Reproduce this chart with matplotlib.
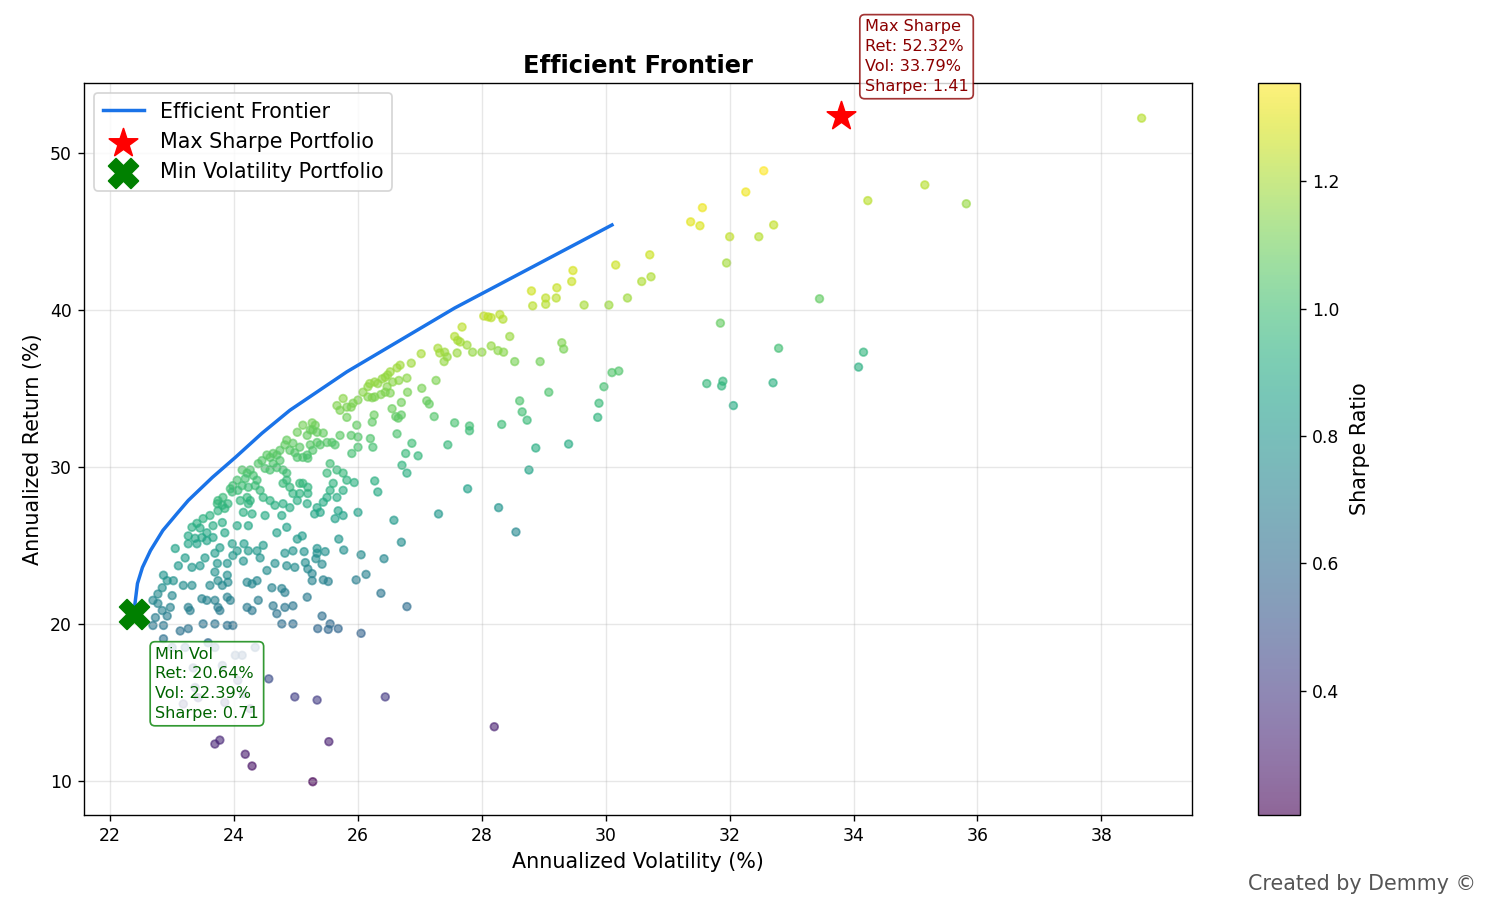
import numpy as np
import matplotlib
matplotlib.use("Agg")
import matplotlib.pyplot as plt

# ---------------- data ----------------
RISK_FREE = 4.77  # % implied by the annotated Sharpe ratios

frontier_vol = [22.39, 22.40, 22.44, 22.52, 22.65, 22.85, 23.08, 23.26, 23.65, 24.02,
                24.45, 24.90, 25.82, 27.56, 30.10]
frontier_ret = [20.64, 21.30, 22.57, 23.59, 24.67, 25.95, 27.03, 27.86, 29.33, 30.60,
                32.14, 33.60, 36.05, 40.11, 45.40]

max_sharpe_vol, max_sharpe_ret, max_sharpe_sr = 33.79, 52.32, 1.41
min_vol_vol, min_vol_ret, min_vol_sr = 22.39, 20.64, 0.71

# random portfolios: [volatility %, return %]
cloud_upper_band = [
    [25.76, 34.35], [25.66, 33.9], [25.82, 33.8], [25.71, 33.6], [25.82, 33.15],
    [25.11, 32.65], [25.26, 32.8], [25.31, 32.65], [25.23, 32.35], [25.27, 32.35],
    [25.34, 32.2], [25.44, 32.15], [25.02, 32.2], [25.18, 32.0], [25.58, 31.55],
    [25.71, 32.0], [25.63, 31.4], [25.5, 31.55], [25.34, 31.55], [25.39, 31.4],
    [25.23, 31.4], [25.27, 31.05], [25.18, 30.75], [25.06, 31.25], [24.95, 31.5],
    [24.85, 31.7], [24.82, 31.4], [24.9, 31.05], [24.98, 30.9], [25.02, 30.6],
    [25.11, 30.6], [25.19, 30.55], [24.74, 31.05], [24.69, 30.75], [24.63, 30.85],
    [24.58, 30.6], [24.53, 30.75], [24.45, 30.4], [24.39, 30.2], [24.74, 30.4],
    [24.63, 30.2], [24.69, 29.95], [24.79, 29.8], [24.58, 29.8], [24.5, 29.9],
    [24.26, 29.8], [24.31, 29.45], [24.21, 29.6], [24.18, 29.25], [24.13, 29.8],
    [24.37, 29.15], [24.42, 28.5], [24.34, 28.8], [24.23, 28.7], [24.13, 28.8],
    [24.05, 29.15], [23.98, 28.8], [23.94, 28.6], [24.06, 28.5], [23.97, 28.4],
    [23.82, 28.05], [23.74, 27.85], [24.1, 27.85], [24.21, 28.05], [24.26, 27.85],
    [24.47, 28.05], [24.58, 27.85], [24.85, 29.6], [24.85, 29.15], [24.79, 28.95],
    [24.9, 28.7], [24.95, 28.3], [25.02, 27.85], [25.06, 28.95], [25.11, 28.95],
    [25.19, 28.3], [25.19, 28.7], [25.06, 28.3], [25.5, 28.05], [25.55, 28.5],
    [25.6, 28.95], [25.5, 29.6], [25.55, 30.2], [25.76, 29.6], [25.82, 29.15],
    [25.66, 29.8], [25.66, 28.05], [25.76, 28.5], [25.18, 27.65], [25.34, 27.4],
    [25.44, 27.75], [24.9, 27.4], [24.79, 27.65],
]

cloud_core_low = [
    [23.73, 27.65], [23.81, 27.55], [23.9, 27.65], [23.85, 27.35], [23.74, 27.2],
    [24.15, 27.1], [24.29, 27.0], [24.5, 26.9], [24.77, 26.9], [24.66, 27.55],
    [24.23, 27.65], [23.61, 26.9], [23.5, 26.7], [23.4, 26.4], [23.32, 26.15],
    [23.45, 26.1], [23.56, 25.8], [23.66, 26.25], [23.48, 25.5], [23.37, 25.45],
    [23.26, 25.6], [23.4, 25.1], [23.56, 25.3], [23.26, 25.1], [23.66, 25.5],
    [23.81, 26.45], [23.85, 25.8], [23.77, 24.85], [23.97, 25.1], [24.05, 24.65],
    [24.16, 25.1], [24.23, 24.65], [24.15, 24.0], [23.98, 24.35], [23.89, 23.85],
    [23.73, 23.85], [23.69, 23.3], [23.89, 23.1], [24.05, 26.25], [24.23, 26.25],
    [24.69, 25.8], [24.85, 26.15], [24.37, 24.65], [24.47, 25.0], [24.42, 24.2],
    [24.53, 23.4], [24.66, 23.85], [24.82, 24.5], [24.95, 24.65], [24.98, 23.6],
    [24.85, 23.7], [25.02, 25.4], [23.05, 24.8], [23.21, 24.2], [23.1, 23.7],
    [23.32, 23.6], [23.45, 23.7], [23.53, 24.2], [23.69, 24.5], [22.86, 23.1],
    [22.92, 22.75], [23.02, 22.75], [22.84, 22.3], [22.77, 21.9], [23.0, 21.8],
    [23.18, 22.45], [23.32, 22.45], [23.61, 22.45], [23.74, 22.75], [23.81, 22.45],
    [23.9, 22.65], [24.21, 22.65], [24.29, 22.55], [24.37, 22.75], [24.61, 22.3],
    [24.77, 22.25], [24.82, 22.0], [22.69, 21.5], [22.77, 21.3], [22.84, 20.85],
    [22.92, 20.5], [22.73, 20.4], [22.97, 21.05], [23.26, 21.05], [23.29, 20.85],
    [23.48, 21.6], [23.56, 21.5], [23.69, 21.5], [23.74, 21.05], [23.77, 20.85],
    [23.89, 21.7], [23.94, 21.5], [24.21, 21.05], [24.29, 20.85], [24.39, 21.5],
    [24.63, 21.15], [24.69, 20.65], [24.82, 21.05], [24.95, 21.15], [24.77, 20.0],
    [24.95, 20.0], [22.69, 19.9], [22.86, 19.9], [23.13, 19.55], [23.26, 19.7],
    [23.5, 20.0], [23.69, 20.0], [23.89, 19.9], [23.98, 19.9],
]

cloud_low_tail = [
    [22.86, 19.05], [23.0, 18.5], [23.21, 18.5], [23.58, 18.8], [23.69, 18.5],
    [23.81, 17.35], [24.02, 18.0], [24.13, 18.0], [24.34, 18.5], [23.34, 17.2],
    [23.37, 15.95], [23.18, 14.9], [23.42, 15.3], [23.85, 15.0], [24.06, 16.4],
    [24.15, 15.55], [24.26, 14.6], [24.56, 16.5], [23.69, 12.35], [23.77, 12.6],
    [24.18, 11.7], [24.29, 10.95], [24.98, 15.35], [25.34, 15.15], [26.44, 15.35],
    [25.53, 12.5], [25.27, 9.95], [28.2, 13.45],
]

cloud_middle = [
    [27.29, 37.55], [27.32, 37.25], [27.4, 37.3], [27.44, 37.0], [27.39, 36.7],
    [27.26, 35.5], [27.02, 37.2], [26.86, 36.6], [26.68, 36.47], [26.63, 36.3],
    [26.52, 36.05], [26.48, 35.85], [26.79, 35.65], [26.66, 35.5], [26.56, 35.4],
    [26.44, 35.7], [26.39, 35.6], [26.32, 35.3], [26.27, 35.4], [26.19, 35.3],
    [26.16, 35.1], [26.47, 35.1], [26.44, 34.75], [26.52, 34.7], [26.37, 34.6],
    [26.27, 34.45], [26.23, 34.4], [26.16, 34.45], [26.08, 34.75], [26.0, 34.25],
    [25.92, 34.05], [25.89, 33.8], [25.98, 32.65], [26.0, 31.9], [26.0, 31.25],
    [25.89, 32.0], [25.9, 30.85], [26.2, 31.8], [26.24, 31.25], [26.26, 33.3],
    [26.23, 32.85], [26.63, 32.1], [26.7, 33.3], [26.65, 33.1], [26.61, 33.2],
    [26.55, 33.7], [26.7, 34.1], [26.8, 34.75], [27.03, 35.0], [27.11, 34.2],
    [27.15, 34.0], [27.23, 33.2], [26.87, 31.5], [26.77, 30.85], [26.97, 30.7],
    [27.45, 31.4], [26.71, 30.1], [26.79, 29.6], [26.27, 29.1], [26.32, 28.4],
    [25.94, 29.0], [27.56, 38.3],
    [25.3, 27.0], [25.39, 27.1], [25.63, 26.7], [25.76, 26.9], [25.68, 27.2],
    [26.0, 27.1], [26.58, 26.6], [27.3, 27.0], [25.1, 25.6], [25.69, 25.4],
    [25.77, 24.7], [26.7, 25.2], [26.42, 24.15], [26.05, 24.4], [25.13, 24.6],
    [25.34, 24.8], [25.34, 24.5], [25.47, 24.6], [25.32, 24.15], [25.42, 23.8],
    [25.15, 23.9], [25.19, 23.5], [25.26, 23.2], [25.26, 22.75], [25.44, 22.8],
    [25.52, 22.7], [25.97, 22.8], [26.13, 23.15], [26.37, 21.95], [26.79, 21.1],
    [25.18, 21.7], [25.42, 20.5], [25.35, 19.7], [25.52, 19.65], [25.55, 20.0],
    [25.68, 19.7], [26.05, 19.4],
]

cloud_right = [
    [30.71, 43.5], [30.16, 42.85], [30.73, 42.1], [30.58, 41.8], [30.35, 40.75],
    [30.05, 40.3], [29.65, 40.3], [29.47, 42.5], [29.45, 41.8], [29.21, 41.4],
    [29.2, 40.75], [29.03, 40.75], [29.03, 40.35], [28.8, 41.2], [28.82, 40.25],
    [28.03, 39.6], [28.1, 39.55], [28.15, 39.5], [28.29, 39.7], [28.34, 39.4],
    [27.68, 38.9], [28.45, 38.3], [27.61, 38.05], [27.65, 37.95], [27.76, 37.75],
    [27.6, 37.25], [27.85, 37.3], [28.0, 37.3], [28.15, 37.7], [28.26, 37.4],
    [28.35, 37.3], [28.53, 36.7], [28.94, 36.7], [29.29, 37.9], [29.32, 37.5],
    [30.1, 36.0], [30.21, 36.1], [29.97, 35.1], [29.89, 34.05], [29.87, 33.15],
    [29.08, 34.75], [28.61, 34.2], [28.65, 33.5], [28.73, 32.97], [28.32, 32.7],
    [27.8, 32.6], [27.8, 32.3], [27.56, 32.8], [28.87, 31.2], [29.4, 31.45],
    [28.76, 29.8], [27.77, 28.6], [28.27, 27.4], [28.55, 25.85],
    [32.55, 48.85], [32.26, 47.5], [31.56, 46.5], [31.37, 45.6], [31.52, 45.35],
    [34.23, 46.95], [32.71, 45.4], [32.0, 44.65], [32.47, 44.65], [31.95, 42.98],
    [33.45, 40.7], [31.85, 39.15], [32.79, 37.55], [34.16, 37.3], [34.08, 36.35],
    [31.63, 35.3], [31.89, 35.45], [31.87, 35.15], [32.7, 35.35], [32.06, 33.9],
    [38.65, 52.2], [35.15, 47.95], [35.82, 46.75],
]

# ---------------- figure ----------------
pts = np.array(cloud_upper_band + cloud_core_low + cloud_low_tail + cloud_middle + cloud_right)
port_vol = pts[:, 0]
port_ret = pts[:, 1]
port_sharpe = (port_ret - RISK_FREE) / port_vol

DPI = 124
W, H = 1491, 908
fig = plt.figure(figsize=(W / DPI, H / DPI), dpi=DPI)
ax = fig.add_axes([84 / W, (H - 815) / H, (1192 - 84) / W, (815 - 83) / H])
cax = fig.add_axes([1258 / W, (H - 815) / H, 42 / W, (815 - 83) / H])

sc = ax.scatter(port_vol, port_ret, c=port_sharpe, cmap='viridis', s=20, alpha=0.6)
cb = fig.colorbar(sc, cax=cax)
cb.set_label('Sharpe Ratio', fontsize=12, labelpad=6)

ax.plot(frontier_vol, frontier_ret, color='#1a73e8', lw=2, label='Efficient Frontier')
ax.scatter([max_sharpe_vol], [max_sharpe_ret], marker='*', color='red', s=300,
           label='Max Sharpe Portfolio', zorder=5)
ax.scatter([min_vol_vol], [min_vol_ret], marker='X', color='green', s=300,
           label='Min Volatility Portfolio', zorder=5)

ax.annotate(f'Max Sharpe\nRet: {max_sharpe_ret:.2f}%\nVol: {max_sharpe_vol:.2f}%\nSharpe: {max_sharpe_sr:.2f}',
            xy=(max_sharpe_vol, max_sharpe_ret), xytext=(14, 13), textcoords='offset points',
            fontsize=9.4, linespacing=1.4, color='darkred', va='bottom', ha='left',
            bbox=dict(boxstyle='round,pad=0.3', fc='white', ec='darkred', alpha=0.8))
ax.annotate(f'Min Vol\nRet: {min_vol_ret:.2f}%\nVol: {min_vol_vol:.2f}%\nSharpe: {min_vol_sr:.2f}',
            xy=(min_vol_vol, min_vol_ret), xytext=(12, -19), textcoords='offset points',
            fontsize=9.4, linespacing=1.4, color='darkgreen', va='top', ha='left',
            bbox=dict(boxstyle='round,pad=0.3', fc='white', ec='green', alpha=0.8))

ax.set_title('Efficient Frontier', fontsize=14, fontweight='bold')
ax.set_xlabel('Annualized Volatility (%)', fontsize=12)
ax.set_ylabel('Annualized Return (%)', fontsize=12)
ax.grid(True, alpha=0.3)
ax.legend(loc='upper left', fontsize=12)

fig.text(1476 / W, (H - 890) / H, 'Created by Demmy ©', ha='right', va='baseline',
         fontsize=12, color='#555555')

fig.savefig('out.png', dpi=DPI)
